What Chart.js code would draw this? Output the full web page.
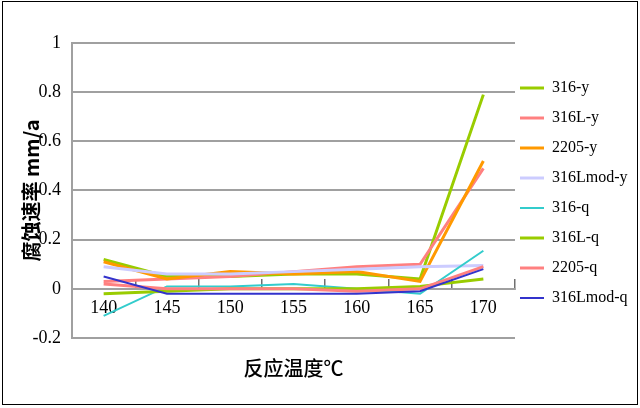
<!DOCTYPE html>
<html><head><meta charset="utf-8">
<script src="https://cdn.jsdelivr.net/npm/chart.js@4.4.0/dist/chart.umd.min.js"></script>
<style>html,body{margin:0;padding:0;background:#fff}#wrap{width:640px;height:408px;position:relative}</style>
</head><body><div id="wrap"><canvas id="c" width="640" height="408"></canvas></div>
<script>
const categories = ['140','145','150','155','160','165','170'];
const seriesNames = ['316-y','316L-y','2205-y','316Lmod-y','316-q','316L-q','2205-q','316Lmod-q'];
const s316y     = [0.12, 0.05, 0.05, 0.06, 0.06, 0.04, 0.79];
const s316Ly    = [0.03, 0.04, 0.05, 0.07, 0.09, 0.10, 0.49];
const s2205y    = [0.11, 0.04, 0.07, 0.06, 0.07, 0.03, 0.52];
const s316Lmody = [0.09, 0.06, 0.06, 0.07, 0.08, 0.09, 0.095];
const s316q     = [-0.11, 0.01, 0.01, 0.02, 0.00, -0.02, 0.155];
const s316Lq    = [-0.02, -0.01, 0.00, 0.00, 0.00, 0.01, 0.04];
const s2205q    = [0.02, 0.00, 0.00, 0.00, -0.01, 0.00, 0.09];
const s316Lmodq = [0.05, -0.02, -0.02, -0.02, -0.02, -0.01, 0.08];
const yTickValues = [-0.2, 0, 0.2, 0.4, 0.6, 0.8, 1];
const yTickLabels = ['-0.2','0','0.2','0.4','0.6','0.8','1'];
const xTitle = '反应温度℃';
const yTitle = '腐蚀速率 mm/a';

const seriesData = [s316y, s316Ly, s2205y, s316Lmody, s316q, s316Lq, s2205q, s316Lmodq];
const colors = ['#99cc00','#ff8080','#ff9900','#ccccff','#33cccc','#99cc00','#ff8080','#3333cc'];
const widths = [3,3,3,3,2,3,3,2];

const datasets = seriesData.map((d, i) => ({
  label: seriesNames[i],
  data: d,
  borderColor: colors[i],
  backgroundColor: colors[i],
  borderWidth: widths[i],
  pointRadius: 0,
  tension: 0,
  fill: false,
  order: seriesData.length - i
}));

const framePlugin = {
  id: 'frame',
  beforeDraw(chart) {
    const c = chart.ctx;
    c.save(); c.fillStyle = '#fff'; c.fillRect(0, 0, chart.width, chart.height); c.restore();
  },
  afterLayout(chart) {
    const l = chart.legend;
    if (l) { l.left -= 9; l.right -= 9; l.top += 23; l.bottom += 23; }
  },
  afterDraw(chart) {
    const c = chart.ctx;
    c.save(); c.strokeStyle = '#000'; c.lineWidth = 1;
    c.strokeRect(2.5, 1.5, 635, 403); c.restore();
  }
};

new Chart(document.getElementById('c'), {
  type: 'line',
  data: { labels: categories, datasets },
  options: {
    responsive: false,
    animation: false,
    layout: { padding: { top: 43, left: 0, right: 0, bottom: 70 } },
    scales: {
      x: {
        type: 'category',
        offset: true,
        position: { y: 0 },
        grid: { offset: true, drawOnChartArea: false, drawTicks: true, tickLength: -11, color: '#707070', lineWidth: 1.5 },
        border: { display: true, color: '#a0a0a0', width: 2 },
        ticks: { padding: 20, color: '#000', font: { family: 'Liberation Serif', size: 18 }, maxRotation: 0, autoSkip: false },
        title: { display: true, text: xTitle, color: '#000', font: { family: 'Noto Sans CJK SC', size: 20, weight: '500' }, padding: { top: 0, bottom: -22 } },
        afterFit: (s) => { s.height = 70; }
      },
      y: {
        min: -0.2, max: 1,
        afterBuildTicks: (s) => { s.ticks = yTickValues.map(v => ({ value: v })); },
        grid: { color: '#a0a0a0', lineWidth: 2, drawTicks: false },
        border: { display: true, color: '#a0a0a0', width: 2 },
        ticks: { padding: 11, color: '#000', font: { family: 'Liberation Serif', size: 18 }, callback: (v, i) => yTickLabels[i] },
        title: { display: true, text: yTitle, color: '#000', font: { family: 'Noto Sans CJK SC', size: 20, weight: 'bold' }, padding: { top: 19, bottom: 0 } },
        afterFit: (s) => { s.width = 72; }
      }
    },
    plugins: {
      legend: {
        position: 'right', align: 'start', maxWidth: 125,
        labels: {
          usePointStyle: true, pointStyle: 'line', pointStyleWidth: 24, padding: 14,
          color: '#000', font: { family: 'Liberation Serif', size: 16 },
          sort: (a, b) => a.datasetIndex - b.datasetIndex
        }
      },
      tooltip: { enabled: false }
    }
  },
  plugins: [framePlugin]
});
</script>
</body></html>
